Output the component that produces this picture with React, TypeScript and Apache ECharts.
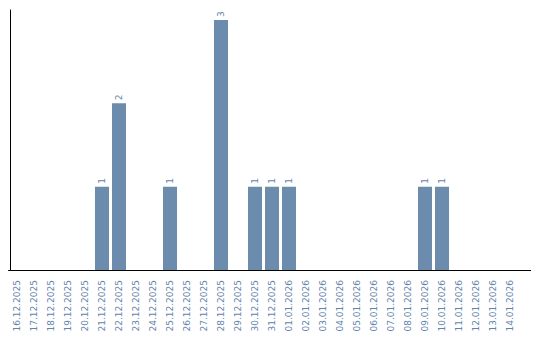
import React, { useEffect, useRef } from "react";
import * as echarts from "echarts";

const categories = [
  "16.12.2025", "17.12.2025", "18.12.2025", "19.12.2025", "20.12.2025",
  "21.12.2025", "22.12.2025", "23.12.2025", "24.12.2025", "25.12.2025",
  "26.12.2025", "27.12.2025", "28.12.2025", "29.12.2025", "30.12.2025",
  "31.12.2025", "01.01.2026", "02.01.2026", "03.01.2026", "04.01.2026",
  "05.01.2026", "06.01.2026", "07.01.2026", "08.01.2026", "09.01.2026",
  "10.01.2026", "11.01.2026", "12.01.2026", "13.01.2026", "14.01.2026",
];

const counts = [
  0, 0, 0, 0, 0,
  1, 2, 0, 0, 1,
  0, 0, 3, 0, 1,
  1, 1, 0, 0, 0,
  0, 0, 0, 0, 1,
  1, 0, 0, 0, 0,
];

export default function App() {
  const ref = useRef<HTMLDivElement>(null);
  useEffect(() => {
    if (!ref.current) return;
    const chart = echarts.init(ref.current, undefined, { renderer: "svg" });
    chart.setOption({
      animation: false,
      grid: { left: 8.5, right: 21.5, top: 10, bottom: 70, containLabel: false },
      graphic: [
        {
          type: "line",
          shape: { x1: 518, y1: 270.5, x2: 531, y2: 270.5 },
          style: { stroke: "#000", lineWidth: 1 },
          silent: true,
        },
      ],
      xAxis: {
        type: "category",
        data: categories,
        axisLine: { show: true, lineStyle: { color: "#000", width: 1 } },
        axisTick: { show: false },
        axisLabel: {
          rotate: 90,
          interval: 0,
          color: "#5f84ab",
          fontFamily: "DejaVu Sans",
          fontSize: 9,
          margin: 10,
        },
      },
      yAxis: {
        type: "value",
        min: 0,
        max: 3.12,
        offset: -1.5,
        axisLine: { show: true, onZero: false, lineStyle: { color: "#000", width: 1 } },
        axisTick: { show: false },
        axisLabel: { show: false },
        splitLine: { show: false },
      },
      series: [
        {
          type: "bar",
          data: counts.map((v) => (v === 0 ? null : v)),
          barWidth: 14,
          itemStyle: { color: "#6b8cad" },
          label: {
            show: true,
            position: "top",
            rotate: 90,
            align: "left",
            verticalAlign: "middle",
            distance: 3,
            color: "#5f84ab",
            fontFamily: "DejaVu Sans",
            fontSize: 9,
          },
        },
      ],
    });
    return () => chart.dispose();
  }, []);
  return <div ref={ref} style={{ width: 540, height: 340, margin: -8 }} />;
}
